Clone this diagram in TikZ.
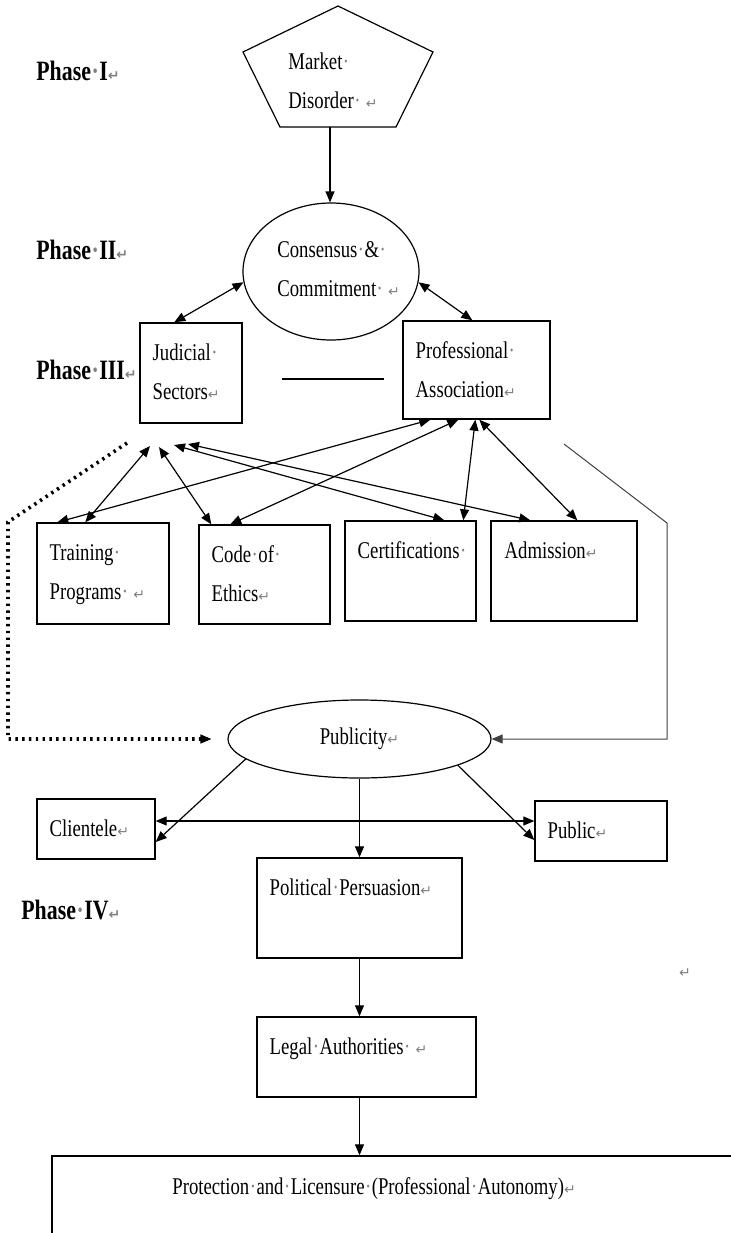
\documentclass[tikz,border=0pt]{standalone}
\usepackage{fontspec}
\setmainfont{Liberation Serif}[FakeStretch=0.78]
\newfontfamily\markfont{DejaVu Sans}
\usetikzlibrary{arrows.meta,shapes.geometric}
\newcommand{\ret}{{\markfont\fontsize{7}{7}\selectfont\textcolor{gray}{↵}}}
\newcommand{\spc}{\makebox[0.3em]{\textcolor{gray}{·}}}
\tikzset{
  lbl/.style={font=\fontsize{12}{19.5}\selectfont},
  txt/.style={lbl, anchor=base west, inner sep=0pt, align=left},
  phase/.style={anchor=base west, inner sep=0pt, font=\fontsize{14}{15}\selectfont\bfseries},
  box/.style={draw, line width=0.7pt, inner sep=0pt},
  oval/.style={draw, ellipse, line width=0.6pt, inner sep=0pt},
  one/.style={-{Triangle[length=5.5pt,width=4.5pt]}, line width=0.6pt},
  dbl/.style={{Triangle[length=5.5pt,width=4.5pt]}-{Triangle[length=5.5pt,width=4.5pt]}, line width=0.6pt},
  dots/.style={line width=1.8pt, dash pattern=on 1.2pt off 2.2pt}
}
\begin{document}
\begin{tikzpicture}[x=0.5pt,y=-0.5pt]
\useasboundingbox (0,0) rectangle (731,1233);
% phases
\node[phase] (ph1) at (36,80) {Phase\spc I\ret};
\node[phase] (ph2) at (36,259) {Phase\spc II\ret};
\node[phase] (ph3) at (36,379) {Phase\spc III\ret};
\node[phase] (ph4) at (21,919) {Phase\spc IV\ret};
% phase I and II
\draw[line width=0.6pt] (338,6) -- (433,52) -- (396,127) -- (280,127) -- (243,52) -- cycle;
\node[txt] (mkttxt) at (288,108) {Market\spc\\Disorder\spc\ \ret};
\coordinate (mkt) at (330,127);
\node[oval, minimum width=88pt, minimum height=68.5pt] (cons) at (331,271.5) {};
\node[txt] (constxt) at (277,296) {Consensus\spc\&\spc\\Commitment\spc\ \ret};
% phase III
\node[box, minimum width=51pt, minimum height=50pt] (jud) at (191,373) {};
\node[box, minimum width=73.5pt, minimum height=49pt] (prof) at (476.5,370) {};
\node[box, minimum width=66pt, minimum height=50.5pt] (train) at (103,573.5) {};
\node[box, minimum width=65.5pt, minimum height=49.5pt] (code) at (264.5,574.5) {};
\node[box, minimum width=65.5pt, minimum height=50pt] (cert) at (410.5,571) {};
\node[box, minimum width=73pt, minimum height=50pt] (adm) at (564,571) {};
\node[txt] (judtxt) at ([shift={(13,77.5)}]jud.north west) {Judicial\spc\\Sectors\ret};
\node[txt] (proftxt) at ([shift={(13,77.5)}]prof.north west) {Professional\spc\\Association\ret};
\node[txt] (traintxt) at ([shift={(13,77.5)}]train.north west) {Training\spc\\Programs\spc\ \ret};
\node[txt] (codetxt) at ([shift={(13,77.5)}]code.north west) {Code\spc of\spc\\Ethics\ret};
\node[txt] (certtxt) at ([shift={(13,38.5)}]cert.north west) {Certifications\spc};
\node[txt] (admtxt) at ([shift={(14,38.5)}]adm.north west) {Admission\ret};
\draw[line width=0.9pt] (282,379) -- (384,379);
\draw[one] (mkt) -- (mkt |- cons.north);
\draw[dbl] (cons.187) -- ([shift={(35,0)}]jud.north west);
\draw[dbl] (cons.-7) -- ([shift={(70,0)}]prof.north west);
\coordinate (hubA) at (150,446);
\coordinate (hubB) at (159,447);
\coordinate (hubC) at (174,445);
\coordinate (hubD) at (188,444);
\draw[dbl] ([shift={(49,0)}]train.north west) -- (hubA);
\draw[dbl] ([shift={(13,0)}]code.north west) -- (hubB);
\draw[dbl] ([shift={(100,0)}]cert.north west) -- (hubC);
\draw[dbl] ([shift={(40,0)}]adm.north west) -- (hubD);
\draw[dbl] ([shift={(21,0)}]train.north west) -- ([shift={(28,0)}]prof.south west);
\draw[dbl] ([shift={(32,0)}]code.north west) -- ([shift={(56,0)}]prof.south west);
\draw[dbl] ([shift={(119,0)}]cert.north west) -- ([shift={(73,0)}]prof.south west);
\draw[dbl] ([shift={(87,0)}]adm.north west) -- ([shift={(77,0)}]prof.south west);
% publicity
\node[oval, lbl, minimum width=131.5pt, minimum height=39pt] (publ) at (359.5,739) {Publicity\ret};
\coordinate (dotS) at (127,443);
\draw[dots] (dotS) -- (8,522) |- ([shift={(-20,0)}]publ.west);
\draw[-{Triangle[length=5.5pt,width=4.5pt]}, line width=0.6pt] ([shift={(-22,0)}]publ.west) -- ([shift={(-16,0)}]publ.west);
\coordinate (solS) at (564,444);
\draw[-{Triangle[length=5.5pt,width=4.5pt]}, line width=0.5pt, black!75] (solS) -- (667,523) |- (publ.east);
% phase IV
\node[box, minimum width=59pt, minimum height=30pt] (client) at (96,829) {};
\node[box, minimum width=66pt, minimum height=30pt] (public) at (601,831) {};
\node[box, minimum width=102.5pt, minimum height=50pt] (polit) at (359.5,908) {};
\node[box, minimum width=109.5pt, minimum height=40pt] (legal) at (366.5,1057) {};
\node[box, minimum width=374pt, minimum height=52pt] (prot) at (426,1208) {};
\node[txt] (clienttxt) at ([shift={(13,38.5)}]client.north west) {Clientele\ret};
\node[txt] (publictxt) at ([shift={(13,38.5)}]public.north west) {Public\ret};
\node[txt] (polittxt) at ([shift={(13,38.5)}]polit.north west) {Political\spc Persuasion\ret};
\node[txt] (legaltxt) at ([shift={(13,38.5)}]legal.north west) {Legal\spc Authorities\spc\ \ret};
\node[txt] (prottxt) at (172,1194) {Protection\spc and\spc Licensure\spc (Professional\spc Autonomy)\ret};
\node[lbl] (stray) at (685,973) {\ret};
\draw[one] (publ.190) -- ([shift={(0,13)}]client.east);
\draw[one] (publ.-15) -- ([shift={(0,9)}]public.west);
\draw[one] (publ.south) -- (polit.north);
\coordinate (cp) at ([shift={(0,-8)}]client.east);
\draw[dbl] (cp) -- (cp -| public.west);
\draw[one] (polit.south) -- (polit.south |- legal.north);
\draw[one] (legal.south -| polit.south) -- (prot.north -| polit.south);
\end{tikzpicture}
\end{document}
